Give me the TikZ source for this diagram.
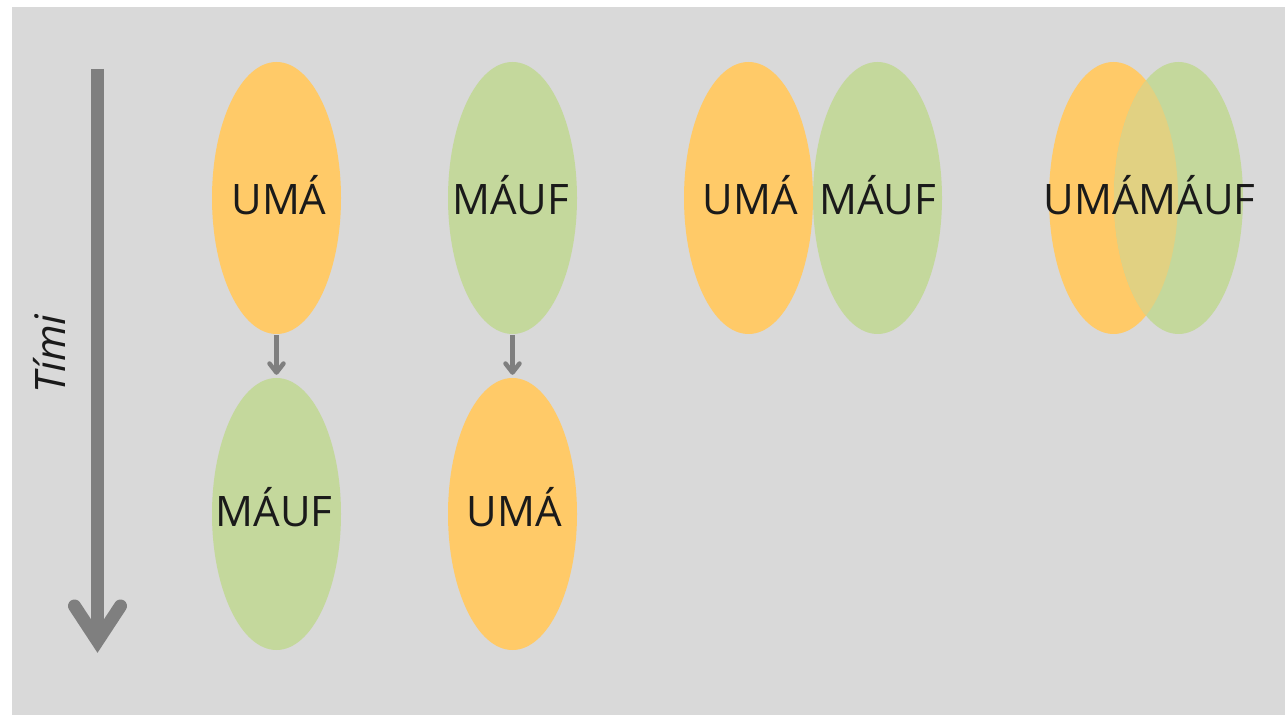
\documentclass[tikz,border=0pt]{standalone}
\usepackage{fontspec}
\setmainfont{Open Sans}
\usetikzlibrary{shapes.geometric,arrows.meta}
\definecolor{bg}{HTML}{D9D9D9}
\definecolor{orng}{HTML}{FFCA68}
\definecolor{grn}{HTML}{C4D89C}
\definecolor{blendc}{HTML}{E1D182}
\definecolor{arrg}{HTML}{7F7F7F}
\definecolor{txt}{HTML}{1A1A1A}
\begin{document}
\begin{tikzpicture}[x=1pt,y=1pt,
  oval/.style={ellipse, minimum width=129pt, minimum height=272pt, inner sep=0pt, draw=none},
  og/.style={oval, fill=orng},
  gg/.style={oval, fill=grn},
  lbl/.style={anchor=base, inner sep=0pt, text=txt, font=\fontsize{42}{50}\selectfont},
  smallarr/.style={draw=arrg, line width=4.5pt, -{Straight Barb[length=9pt,width=14pt,round]}, shorten <=1pt, shorten >=3pt}
]
\useasboundingbox (0,0) rectangle (1285,715);
\fill[white] (0,0) rectangle (1285,715);
\fill[bg] (12,0) rectangle (1285,708);

% big time arrow
\coordinate (ttop) at (97.5,646);
\coordinate (tvert) at (97.5,74);
\coordinate (tl) at (74.5,109);
\coordinate (tr) at (120.5,109);
\draw[arrg, line width=13pt, line cap=butt] (ttop) -- ([yshift=4pt]tvert);
\draw[arrg, line width=13pt, line cap=round, line join=miter] (tl) -- (tvert) -- (tr);
\node[lbl, rotate=90, font=\fontsize{42}{50}\selectfont\itshape] (timi) at (65,361) {Tími};

% column 1
\node[og] (e1) at (276.5,517) {};
\node[gg] (e3) at (276.5,201) {};
\node[lbl] (t1) at (279,500) {UMÁ};
\node[lbl] (t3) at (274,188) {MÁUF};
\draw[smallarr] (e1.south) -- (e3.north);

% column 2
\node[gg] (e2) at (512.5,517) {};
\node[og] (e4) at (512.5,201) {};
\node[lbl] (t2) at (510.5,500) {MÁUF};
\node[lbl] (t4) at (514.5,188) {UMÁ};
\draw[smallarr] (e2.south) -- (e4.north);

% column 3
\node[og] (e5) at (748.5,517) {};
\node[gg] (e6) at (877.5,517) {};
\node[lbl] (t5) at (750.5,500) {UMÁ};
\node[lbl] (t6) at (877.5,500) {MÁUF};

% column 4 (overlap)
\node[og] (e7) at (1113.5,517) {};
\node[gg] (e8) at (1178.5,517) {};
\begin{scope}
  \clip (1113.5,517) ellipse [x radius=64.5pt, y radius=136pt];
  \fill[blendc] (1178.5,517) ellipse [x radius=64.5pt, y radius=136pt];
\end{scope}
\node[lbl] (t7) at (1149.5,500) {UMÁMÁUF};
\end{tikzpicture}
\end{document}
